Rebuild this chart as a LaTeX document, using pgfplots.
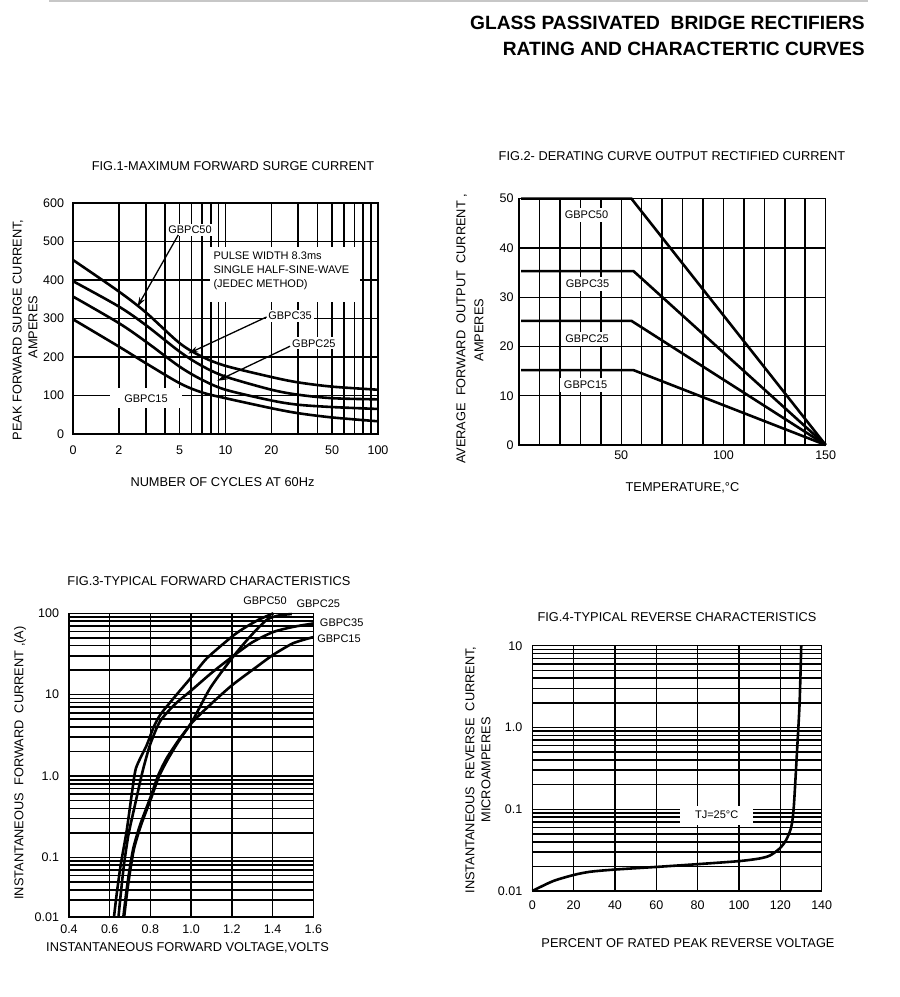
\documentclass[border=0pt]{standalone}
\usepackage{pgfplots}
\pgfplotsset{compat=1.18}
\usetikzlibrary{arrows.meta}
\usepackage{fontspec}
\setmainfont{Liberation Sans}
\newcommand{\lbl}{\fontsize{12.8pt}{15pt}\selectfont}
\newcommand{\tk}{\fontsize{12.5pt}{15pt}\selectfont}
\newcommand{\sm}{\fontsize{11pt}{14.2pt}\selectfont}
\pgfplotsset{chart/.style={
  scale only axis, clip=false,
  axis line style={black,line width=1.5pt},
  grid=both,
  every major grid/.style={black,line width=1.4pt},
  every minor grid/.style={black,line width=1.6pt},
  major tick length=0pt, minor tick length=0pt,
  tick label style={font=\tk},
  /pgf/number format/assume math mode=true,
  cycle list={{black,line width=2.6pt,no markers}},
},
crv/.style={black,line width=2.6pt,no markers}}
\begin{document}
\begin{tikzpicture}[x=1pt,y=1pt]
\path[use as bounding box] (0,0) rectangle (900,997);
\draw[black!22,line width=1.2pt] (49,996) -- (868,996);
\node[anchor=east,inner sep=0pt,font=\bfseries\fontsize{19.2pt}{22pt}\selectfont] at (865,974) {GLASS PASSIVATED\ \ BRIDGE RECTIFIERS};
\node[anchor=east,inner sep=0pt,font=\bfseries\fontsize{19.2pt}{22pt}\selectfont] at (865,948.5) {RATING AND CHARACTERTIC CURVES};

% ---------- FIG 1 ----------
\node[inner sep=0pt,font=\lbl] at (233,831) {FIG.1-MAXIMUM FORWARD SURGE CURRENT};
\node[inner sep=0pt,font=\lbl,rotate=90] at (18,667) {PEAK FORWARD SURGE CURRENT,};
\node[inner sep=0pt,font=\lbl,rotate=90] at (33,670) {AMPERES};
\node[inner sep=0pt,font=\lbl] at (222.5,515.3) {NUMBER OF CYCLES AT 60Hz};
\begin{axis}[chart, at={(73pt,563pt)}, anchor=south west, width=305pt, height=231pt,
  xmode=log, xmin=1, xmax=100, ymin=0, ymax=600,
  xtick={1,2,5,10,20,50,100}, xticklabels={0,2,5,10,20,50,100},
  minor xtick={3,4,6,7,8,9,30,40,60,70,80,90},
  ytick={0,100,200,300,400,500,600}, yticklabels={0,100,200,300,400,500,600},
  xticklabel style={yshift=-8.5pt}, yticklabel style={xshift=-5.5pt}]
\fill[white] (axis cs:7.9,343) rectangle (axis cs:76,486);
\node[anchor=west,align=left,inner sep=0pt,font=\sm] at (axis cs:8.32,424) {PULSE WIDTH 8.3ms\\SINGLE HALF-SINE-WAVE\\(JEDEC METHOD)};
\node[fill=white,inner xsep=14pt,inner ysep=6pt,font=\sm] at (axis cs:3.01,92.7) {GBPC15};
\node[fill=white,inner sep=2pt,font=\sm] at (axis cs:5.85,530) {GBPC50};
\node[fill=white,inner sep=2pt,font=\sm] at (axis cs:26.5,307) {GBPC35};
\node[fill=white,inner sep=2pt,font=\sm] at (axis cs:38,235.6) {GBPC25};
\draw[line width=1.3pt,-{Stealth[length=10pt,width=6pt]}] (axis cs:4.90,517) -- (axis cs:2.64,330);
\draw[line width=1.3pt,-{Stealth[length=10pt,width=6pt]}] (axis cs:18.6,304) -- (axis cs:5.70,209);
\draw[line width=1.3pt,-{Stealth[length=10pt,width=6pt]}] (axis cs:26.5,228) -- (axis cs:8.84,138);
\addplot[crv,smooth] coordinates {(1,452) (2,370) (3,316) (5,236) (7,201) (10,177) (20,148) (30,134) (50,123) (100,115)};
\addplot[crv,smooth] coordinates {(1,397) (2,331) (3,283) (5,214) (7,177) (10,149) (20,115) (30,102) (50,93) (100,90)};
\addplot[crv,smooth] coordinates {(1,357) (2,288) (3,240) (5,175) (7,141) (10,115) (20,87) (30,76) (50,70) (100,65)};
\addplot[crv,smooth] coordinates {(1,298) (2,227) (3,184) (5,132) (7,108) (10,93) (20,67) (30,54) (50,43) (100,33)};
\end{axis}

% ---------- FIG 2 ----------
\node[inner sep=0pt,font=\lbl] at (672,841) {FIG.2- DERATING CURVE OUTPUT RECTIFIED CURRENT};
\node[inner sep=0pt,font=\lbl,rotate=90] at (461.7,668) {AVERAGE\ \ FORWARD\ \ OUTPUT\ \ CURRENT ,};
\node[inner sep=0pt,font=\lbl,rotate=90] at (479,667) {AMPERES};
\node[inner sep=0pt,font=\lbl] at (682.5,509) {TEMPERATURE,°C};
\begin{axis}[chart, at={(519pt,552pt)}, anchor=south west, width=306.7pt, height=246.3pt,
  xmin=0, xmax=150, ymin=0, ymax=50,
  xtick={50,100,150}, xticklabels={50,100,150},
  minor xtick={10,20,30,40,60,70,80,90,110,120,130,140},
  ytick={0,10,20,30,40,50}, yticklabels={0,10,20,30,40,50},
  xticklabel style={yshift=-2.5pt}, yticklabel style={xshift=-2pt}]
\node[fill=white,inner xsep=4pt,inner ysep=3pt,font=\sm] at (axis cs:33,46.7) {GBPC50};
\node[fill=white,inner xsep=4pt,inner ysep=3pt,font=\sm] at (axis cs:33.5,32.7) {GBPC35};
\node[fill=white,inner xsep=4pt,inner ysep=3pt,font=\sm] at (axis cs:33.3,21.5) {GBPC25};
\node[fill=white,inner xsep=4pt,inner ysep=3pt,font=\sm] at (axis cs:32.6,12.2) {GBPC15};
\addplot[crv,sharp plot] coordinates {(1,50) (55,50) (150,0)};
\addplot[crv,sharp plot] coordinates {(1,35.3) (56,35.3) (150,0)};
\addplot[crv,sharp plot] coordinates {(1,25.2) (55,25.2) (150,0)};
\addplot[crv,sharp plot] coordinates {(1,15.2) (56,15.2) (150,0)};
\end{axis}

% ---------- FIG 3 ----------
\node[inner sep=0pt,font=\lbl] at (209,416.3) {FIG.3-TYPICAL FORWARD CHARACTERISTICS};
\node[inner sep=0pt,font=\lbl,rotate=90] at (20,234) {INSTANTANEOUS\ \ FORWARD\ \ CURRENT ,(A)};
\node[inner sep=0pt,font=\lbl] at (187.5,49) {INSTANTANEOUS FORWARD VOLTAGE,VOLTS};
\node[inner sep=0pt,font=\sm] at (265,396.3) {GBPC50};
\node[inner sep=0pt,font=\sm] at (318.3,393.7) {GBPC25};
\node[inner sep=0pt,font=\sm] at (341.7,374.3) {GBPC35};
\node[inner sep=0pt,font=\sm] at (339,358) {GBPC15};
\begin{axis}[chart, at={(69pt,80pt)}, anchor=south west, width=244.3pt, height=303.7pt,
  ymode=log, xmin=0.4, xmax=1.6, ymin=0.0185, ymax=100,
  xtick={0.4,0.6,0.8,1.0,1.2,1.4,1.6}, xticklabels={0.4,0.6,0.8,1.0,1.2,1.4,1.6},
  ytick={0.0185,0.1,1,10,100}, yticklabels={0.01,0.1,1.0,10,100},
  minor ytick={0.03,0.04,0.05,0.06,0.07,0.08,0.09,0.2,0.3,0.4,0.5,0.6,0.7,0.8,0.9,2,3,4,5,6,7,8,9,20,30,40,50,60,70,80,90},
  xticklabel style={yshift=-4pt}, yticklabel style={xshift=-6.5pt}]
\addplot[crv,smooth,tension=0.4] coordinates {(0.621,0.0185) (0.634,0.035) (0.654,0.081) (0.683,0.21) (0.708,0.59) (0.729,1.25) (0.782,2.4) (0.814,3.9) (0.847,5.6) (0.913,9.0) (1.003,16.6) (1.077,28) (1.2,51.6) (1.257,65) (1.33,83) (1.404,100)};
\addplot[crv,smooth,tension=0.4] coordinates {(0.643,0.0185) (0.654,0.035) (0.67,0.081) (0.692,0.19) (0.724,0.44) (0.757,1.03) (0.777,1.6) (0.80,2.5) (0.847,4.7) (0.92,7.6) (1.003,11.4) (1.1,18.5) (1.2,29) (1.3,44) (1.404,59) (1.5,68) (1.6,75)};
\addplot[crv,smooth,tension=0.4] coordinates {(0.667,0.0185) (0.68,0.035) (0.696,0.067) (0.716,0.13) (0.749,0.25) (0.798,0.53) (0.839,1.03) (0.88,1.66) (0.94,2.8) (1.003,4.6) (1.093,12) (1.2,28) (1.289,51.6) (1.371,83) (1.43,94) (1.494,98)};
\addplot[crv,smooth,tension=0.4] coordinates {(0.671,0.0185) (0.684,0.035) (0.70,0.067) (0.72,0.13) (0.754,0.25) (0.803,0.53) (0.843,1.0) (0.885,1.6) (0.94,2.7) (1.003,4.5) (1.093,7.5) (1.2,13) (1.322,22) (1.404,31) (1.502,43) (1.6,51)};
\end{axis}

% ---------- FIG 4 ----------
\node[inner sep=0pt,font=\lbl] at (677,380) {FIG.4-TYPICAL REVERSE CHARACTERISTICS};
\node[inner sep=0pt,font=\lbl,rotate=90] at (470.7,227) {INSTANTANEOUS\ \ REVERSE\ \ CURRENT,};
\node[inner sep=0pt,font=\lbl,rotate=90] at (486,227) {MICROAMPERES};
\node[inner sep=0pt,font=\lbl] at (688,54) {PERCENT OF RATED PEAK REVERSE VOLTAGE};
\begin{axis}[chart, at={(532.3pt,106pt)}, anchor=south west, width=289.4pt, height=245.3pt,
  ymode=log, xmin=0, xmax=140, ymin=0.01, ymax=10,
  xtick={0,20,40,60,80,100,120,140}, xticklabels={0,20,40,60,80,100,120,140},
  ytick={0.01,0.1,1,10}, yticklabels={0.01,0.1,1.0,10},
  minor ytick={0.02,0.03,0.04,0.05,0.06,0.07,0.08,0.09,0.2,0.3,0.4,0.5,0.6,0.7,0.8,0.9,2,3,4,5,6,7,8,9},
  xticklabel style={yshift=-6.5pt}, yticklabel style={xshift=-6.5pt}]
\node[fill=white,minimum width=73pt,minimum height=19pt,inner sep=0pt,font=\sm] at (axis cs:89.2,0.085) {TJ=25°C};
\addplot[crv,smooth,tension=0.45] coordinates {(0,0.01) (10,0.0132) (20,0.0157) (28,0.0172) (40,0.0183) (60,0.0197) (80,0.0213) (100,0.0232) (110,0.025) (115,0.0272) (119.6,0.033) (122.8,0.042) (125.3,0.061) (126.5,0.107) (128,0.48) (129.3,1.97) (130.1,10)};
\end{axis}
\end{tikzpicture}
\end{document}
